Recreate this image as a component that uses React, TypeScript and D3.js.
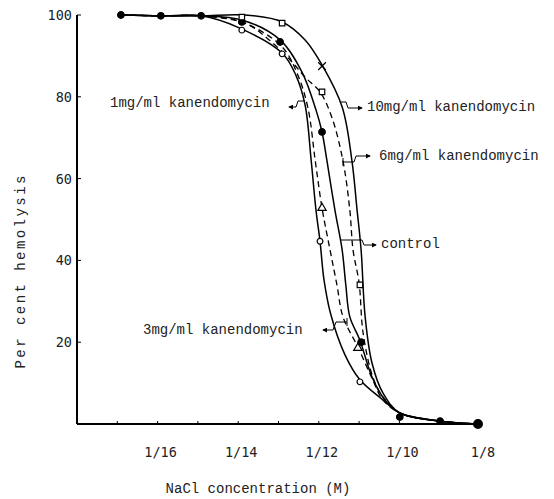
import React from "react";
import * as d3 from "d3";

// x is in tick steps along the axis (ticks 1..10), y in per cent hemolysis
const xTicks = [1, 2, 3, 4, 5, 6, 7, 8, 9, 10];
const xLabelAt = [2, 4, 6, 8, 10];
const xLabels = ["1/16", "1/14", "1/12", "1/10", "1/8"];
const yTicks = [20, 40, 60, 80, 100];

// shared flat start and tail of all the hand drawn curves
const head = [[1.09, 100], [2.08, 99.8], [3.08, 99.8]];
const tail = [[8.01, 2.7], [9.01, 0.7], [9.95, 0]];

// curves
const curve1mg = [[4.04, 96.8], [5.09, 90.7], [5.43, 85.3], [5.66, 78.0], [5.81, 64.5], [5.93, 52.3], [6.03, 44.7], [6.13, 35.2], [6.3, 26.7], [6.65, 16.9], [7.02, 10.8], [7.59, 5.9]];
const curve3mg = [[4.09, 98.3], [5.09, 92.2], [5.48, 85.3], [5.73, 77.3], [5.91, 64.5], [6.08, 52.8], [6.28, 42.5], [6.45, 34.0], [6.6, 26.2], [6.97, 18.8], [7.32, 11.2], [7.59, 5.9]];
const curveControl = [[4.09, 98.8], [5.04, 93.9], [5.58, 86.1], [5.93, 76.8], [6.08, 71.4], [6.2, 64.5], [6.4, 52.3], [6.58, 42.5], [6.67, 34.0], [6.77, 26.2], [7.02, 20.5], [7.32, 11.5], [7.64, 5.9]];
const curve6mg = [[4.17, 98.0], [4.71, 94.4], [5.29, 89.0], [5.66, 84.8], [6.03, 81.2], [6.33, 74.8], [6.6, 64.3], [6.77, 52.3], [6.85, 42.5], [7.0, 34.5], [7.1, 22.2], [7.34, 11.5], [7.59, 6.6]];
const curve10mg = [[4.17, 100], [5.09, 98.3], [5.66, 93.9], [6.08, 87.8], [6.58, 77.5], [6.82, 64.5], [6.95, 52.3], [7.05, 42.5], [7.15, 26.2], [7.32, 14.9], [7.59, 7.6]];

// measured points
const ptsControl = [[1.09, 100], [2.08, 99.8], [3.08, 99.8], [4.09, 98.3], [5.04, 93.4], [6.08, 71.4], [7.05, 20.0], [8.01, 1.7], [9.01, 0.7], [9.95, 0]];
const pts1mg = [[4.09, 96.3], [5.09, 90.5], [6.03, 44.7], [7.02, 10.3]];
const pts3mg = [[6.08, 52.8], [6.97, 18.6]];
const pts6mg = [[6.08, 81.2], [7.02, 34.0]];
const pts10mg = [[4.09, 99.5], [5.09, 98.0], [6.08, 87.5]];
const sym10mg = ["square", "square", "times"];

const W = 554, H = 499;
const x = d3.scaleLinear().domain([0, 10]).range([77, 480]);
const y = d3.scaleLinear().domain([0, 100]).range([424, 15]);

const line = d3.line<number[]>()
  .x(d => x(d[0]))
  .y(d => y(d[1]))
  .curve(d3.curveCatmullRom.alpha(0.5));

const series = [
  { name: "1mg", data: curve1mg, dash: null },
  { name: "3mg", data: curve3mg, dash: "6,4" },
  { name: "control", data: curveControl, dash: null },
  { name: "6mg", data: curve6mg, dash: "6,4" },
  { name: "10mg", data: curve10mg, dash: null },
];

const symType: any = {
  dot: d3.symbolCircle,
  circle: d3.symbolCircle,
  square: d3.symbolSquare,
  triangle: d3.symbolTriangle,
  times: (d3 as any).symbolTimes || (d3 as any).symbolX || d3.symbolCross,
};

const markerSets = [
  { pts: ptsControl, sym: ptsControl.map(() => "dot") },
  { pts: pts1mg, sym: pts1mg.map(() => "circle") },
  { pts: pts3mg, sym: pts3mg.map(() => "triangle") },
  { pts: pts6mg, sym: pts6mg.map(() => "square") },
  { pts: pts10mg, sym: sym10mg },
];

const mono = "'Liberation Mono', 'Courier New', monospace";
const tickFont = "'DejaVu Sans Mono', monospace";

function Marker({ p, s, big }: { p: number[]; s: string; big: boolean }) {
  const size = s === "dot" ? (big ? 60 : 34) : s === "triangle" ? 30 : s === "times" ? 40 : s === "square" ? 30 : 26;
  const path = d3.symbol().type(symType[s]).size(size)() as string;
  const filled = s === "dot";
  return (
    <path
      d={path}
      transform={`translate(${x(p[0])},${y(p[1])})`}
      fill={filled ? "#000" : s === "times" ? "none" : "#fff"}
      stroke="#000"
      strokeWidth={1.2}
    />
  );
}

export default function App() {
  return (
    <svg width={W} height={H} style={{ position: "absolute", left: 0, top: 0, background: "#fff" }}>
      <defs>
        <marker id="ah" viewBox="0 0 6 6" refX={5} refY={3} markerWidth={5} markerHeight={5} orient="auto">
          <path d="M0,0 L6,3 L0,6 z" fill="#000" />
        </marker>
      </defs>
      <rect width={W} height={H} fill="#fff" />

      {/* axes */}
      <line x1={x(0)} x2={x(10)} y1={y(0)} y2={y(0)} stroke="#000" strokeWidth={2} />
      <line x1={x(0)} x2={x(0)} y1={y(0)} y2={y(100)} stroke="#000" strokeWidth={2} />
      {xTicks.map(t => (
        <line key={t} x1={x(t)} x2={x(t)} y1={y(0)} y2={y(0) - 3} stroke="#000" strokeWidth={1} />
      ))}
      {yTicks.map(t => (
        <g key={t}>
          <line x1={x(0)} x2={x(0) + 4} y1={y(t)} y2={y(t)} stroke="#000" strokeWidth={1} />
          <text x={72} y={y(t) + 5} textAnchor="end" fontFamily={tickFont} fontSize={13.5} fill="#222">{t}</text>
        </g>
      ))}
      {xLabelAt.map((t, i) => (
        <text key={t} x={x(t) + 3} y={457} textAnchor="middle" fontFamily={tickFont} fontSize={13.5} fill="#222">{xLabels[i]}</text>
      ))}

      <text x={258} y={493} textAnchor="middle" fontFamily={mono} fontSize={14} fill="#222">NaCl concentration (M)</text>
      <text transform="translate(25,272) rotate(-90)" textAnchor="middle" fontFamily={mono} fontSize={14} fill="#222"
        textLength={193} lengthAdjust="spacing">Per cent hemolysis</text>

      {/* curves */}
      {series.map(s => (
        <path key={s.name} d={line([...head, ...s.data, ...tail]) as string} fill="none" stroke="#000"
          strokeWidth={s.dash ? 1.3 : 1.5} strokeDasharray={s.dash || undefined} />
      ))}

      {/* points */}
      {markerSets.map((m, i) =>
        m.pts.map((p, j) => <Marker key={i + "-" + j} p={p} s={m.sym[j]} big={p[0] > 9.5} />)
      )}

      {/* labels with pointers */}
      <g fontFamily={mono} fontSize={14} fill="#222">
        <text x={110} y={107}>1mg/ml kanendomycin</text>
        <text x={367} y={111}>10mg/ml kanendomycin</text>
        <text x={379} y={160}>6mg/ml kanendomycin</text>
        <text x={381} y={248}>control</text>
        <text x={143} y={334}>3mg/ml kanendomycin</text>
      </g>
      <g fill="none" stroke="#000" strokeWidth={1}>
        <path d="M305,101 L298,101 L296,107 L289,107" markerEnd="url(#ah)" />
        <path d="M341,102 L346,102 L348,108 L362,108" markerEnd="url(#ah)" />
        <path d="M343,158 L343,166 M343,162 L354,162 L356,156 L370,156" markerEnd="url(#ah)" />
        <path d="M340,240 L362,240 L364,245 L376,245" markerEnd="url(#ah)" />
        <path d="M347,318 L347,326 M347,322 L336,322 L333,330 L323,330" markerEnd="url(#ah)" />
      </g>
    </svg>
  );
}
